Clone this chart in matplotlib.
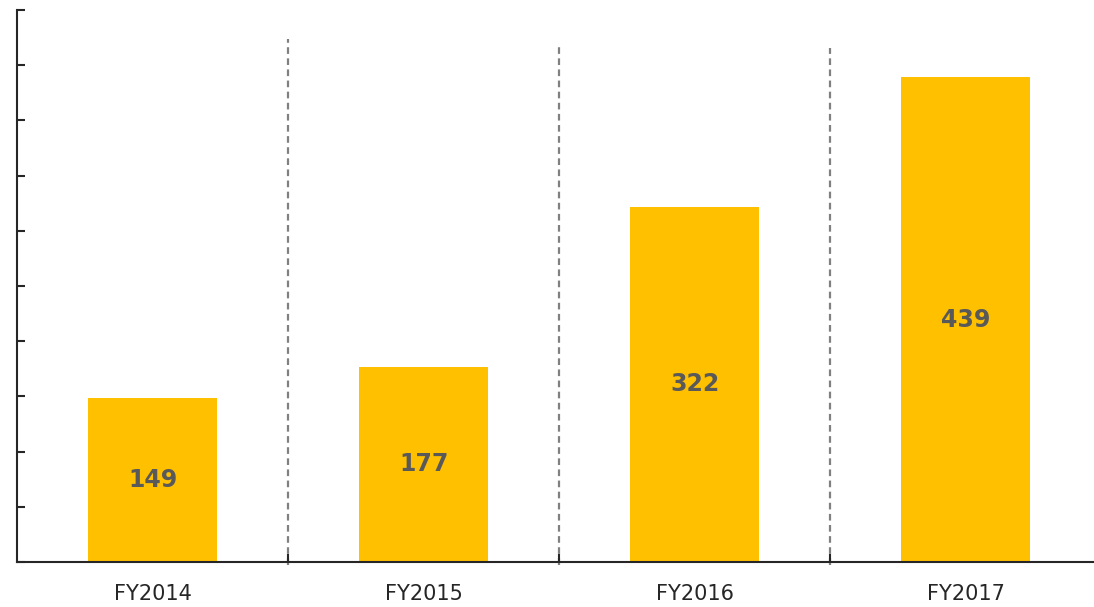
import matplotlib
matplotlib.use("Agg")
import matplotlib.pyplot as plt

plt.rcParams["font.family"] = ["DejaVu Sans"]

categories = ["FY2014", "FY2015", "FY2016", "FY2017"]
values = [149, 177, 322, 439]
separator_tops = [474, 469, 466]

fig = plt.figure(figsize=(10.94, 6.07), dpi=100)
ax = fig.add_axes([17 / 1094, 1 - 562 / 607, (1101.5 - 17) / 1094, (562 - 10) / 607])

x = list(range(len(categories)))
ax.bar(x, values, width=0.476, color="#FFC000", zorder=2)
for xi, v in zip(x, values):
    ax.text(xi, v / 2, str(v), ha="center", va="center", fontsize=17,
            fontweight="bold", color="#595959", zorder=3)

for i, top in enumerate(separator_tops):
    ax.plot([i + 0.5, i + 0.5], [-3, top], color="#808080", lw=1.6,
            ls=(0, (3, 2)), zorder=1, clip_on=False)

ax.set_xlim(-0.5, 3.5)
ax.set_ylim(0, 500)
ax.set_yticks(range(0, 501, 50))
ax.set_yticklabels([])
ax.set_xticks(x)
ax.set_xticklabels(categories, fontsize=15, color="#262626")
ax.set_xticks([0.5, 1.5, 2.5], minor=True)
ax.tick_params(axis="x", which="major", length=0, pad=16)
ax.tick_params(axis="x", which="minor", direction="in", length=6, width=1.5, color="#262626")
ax.tick_params(axis="y", direction="in", length=6, width=1.5, color="#262626")

for s in ["top", "right"]:
    ax.spines[s].set_visible(False)
for s in ["left", "bottom"]:
    ax.spines[s].set_color("#262626")
    ax.spines[s].set_linewidth(1.5)

fig.savefig("out.png", dpi=100)
